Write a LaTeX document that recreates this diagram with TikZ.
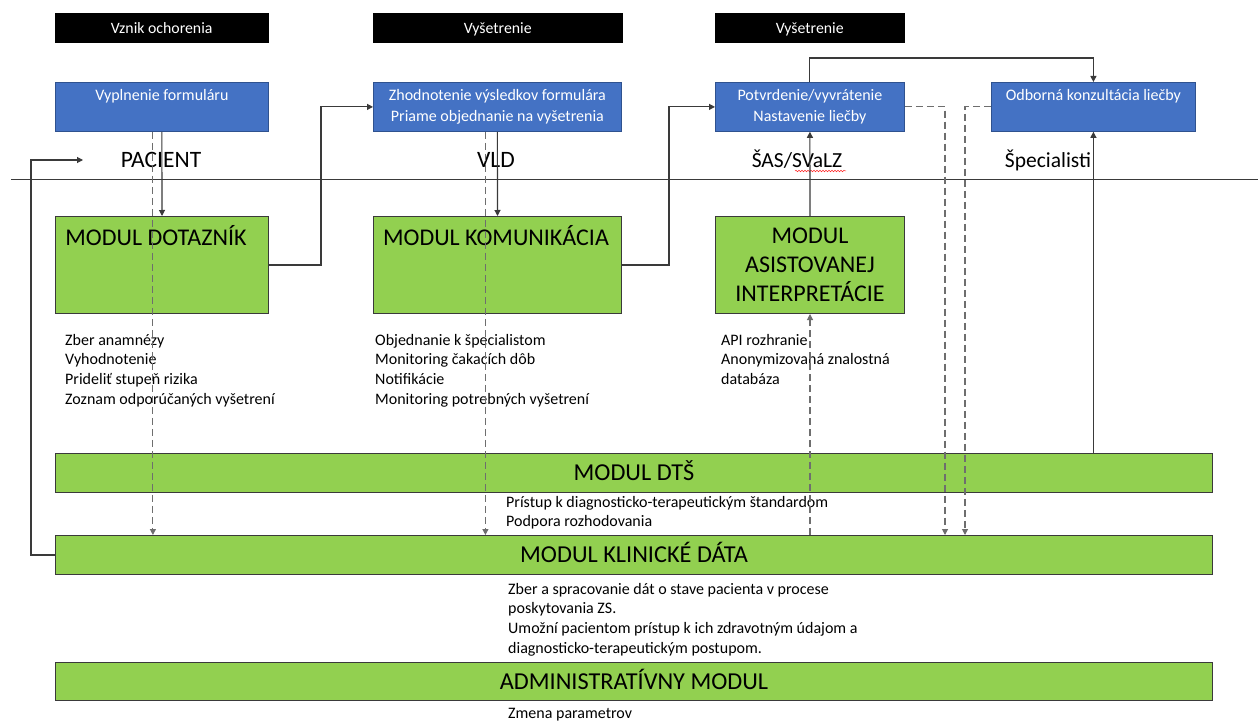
\documentclass[tikz,border=0pt]{standalone}
\usepackage{fontspec}
\setmainfont{Carlito}
\usetikzlibrary{arrows.meta,decorations.pathmorphing,calc}
\definecolor{blueF}{HTML}{4472C4}
\definecolor{blueD}{HTML}{2F528F}
\definecolor{greenF}{HTML}{92D050}
\definecolor{lineC}{HTML}{3A3A3A}
\definecolor{dashC}{HTML}{6E6E6E}
\tikzset{
  blackbox/.style={draw=black, fill=black, text=white, minimum height=29pt, inner sep=0pt, text height=12pt, text depth=0pt, anchor=north west, font=\fontsize{15.8}{18}\selectfont},
  bluebox/.style={draw=blueD, line width=0.8pt, fill=blueF, minimum height=49pt, inner sep=0pt, anchor=north west},
  greenbox/.style={draw=lineC, line width=1pt, fill=greenF, inner sep=0pt, anchor=north west},
  bluetext/.style={text=white, align=center, anchor=north, font=\fontsize{16}{21}\selectfont, inner sep=0pt},
  modtext/.style={text=black, align=center, font=\fontsize{24}{29}\selectfont, inner sep=0pt},
  bartext/.style={text=black, font=\fontsize{24.3}{28}\selectfont, inner sep=0pt, text height=15.6pt, text depth=0pt},
  desc/.style={text=black, align=left, anchor=north west, font=\fontsize{16}{19.6}\selectfont, inner sep=0pt},
  role/.style={text=black, font=\fontsize{21.5}{24}\selectfont, inner sep=0pt, anchor=base},
  arr/.style={draw=lineC, line width=1.1pt, -{Triangle[length=6pt,width=6pt]}},
  dasharr/.style={draw=dashC, line width=1.1pt, dash pattern=on 7pt off 4pt, -{Triangle[length=6pt,width=6pt]}},
}
\begin{document}
\begin{tikzpicture}[x=1pt,y=-1pt]
\useasboundingbox (0,0) rectangle (1258,722);
\fill[white] (0,0) rectangle (1258,722);

% phase headers
\node[blackbox, minimum width=213pt] (h1) at (55,13) {Vznik ochorenia};
\node[blackbox, minimum width=249pt] (h2) at (373,13) {Vyšetrenie};
\node[blackbox, minimum width=189pt] (h3) at (715,13) {Vyšetrenie};

% blue boxes
\node[bluebox, minimum width=213pt] (vyp) at (55,82) {};
\node[bluetext] (vypt) at ($(vyp.north)+(0,7)$) {Vyplnenie formuláru};
\node[bluebox, minimum width=248pt] (zhod) at (373,82) {};
\node[bluetext] (zhodt) at ($(zhod.north)+(0,7)$) {Zhodnotenie výsledkov formulára\\Priame objednanie na vyšetrenia};
\node[bluebox, minimum width=189pt] (pot) at (715,82) {};
\node[bluetext] (pott) at ($(pot.north)+(0,7)$) {Potvrdenie/vyvrátenie\\Nastavenie liečby};
\node[bluebox, minimum width=204pt] (odb) at (991,82) {};
\node[bluetext] (odbt) at ($(odb.north)+(0,7)$) {Odborná konzultácia liečby};

% role labels
\node[role, font=\fontsize{23.5}{26}\selectfont] (pac) at (161,168) {PACIENT};
\node[role, font=\fontsize{23.5}{26}\selectfont] (vld) at (496,168) {VLD};
\node[role] (sas) at (797,168) {ŠAS/SVaLZ};
\node[role] (spec) at (1048,168) {Špecialisti};
\draw[red!85!white, line width=0.5pt, decorate, decoration={snake, amplitude=0.8pt, segment length=3pt}] (795,171) -- (846,171);

% separator line
\coordinate (sepL) at (11,180);
\coordinate (sepR) at (1258,180);
\draw[lineC, line width=1pt] (sepL) -- (sepR);

% green module boxes
\node[greenbox, minimum width=213pt, minimum height=97pt] (dot) at (55,216) {};
\node[modtext] (dott) at ($(dot.north)+(-6,20)$) {MODUL DOTAZNÍK};
\node[greenbox, minimum width=248pt, minimum height=97pt] (kom) at (373,216) {};
\node[modtext] (komt) at ($(kom.north)+(-1.5,20)$) {MODUL KOMUNIKÁCIA};
\node[greenbox, minimum width=189pt, minimum height=97pt] (asi) at (715,216) {};
\node[modtext, anchor=north] (asit) at ($(asi.north)+(0,12)$) {MODUL\\ASISTOVANEJ\\INTERPRETÁCIE};

% descriptions
\node[desc] (d1) at (65,334) {Zber anamnézy\\Vyhodnotenie\\Prideliť stupeň rizika\\Zoznam odporúčaných vyšetrení};
\node[desc] (d2) at (375,334) {Objednanie k špecialistom\\Monitoring čakacích dôb\\Notifikácie\\Monitoring potrebných vyšetrení};
\node[desc] (d3) at (721,334) {API rozhranie\\Anonymizovaná znalostná\\databáza};

% bars
\node[greenbox, minimum width=1157pt, minimum height=39pt] (dts) at (55,453) {};
\node[bartext] (dtst) at (dts.center) {MODUL DTŠ};
\node[desc] (d4) at (506,496) {Prístup k diagnosticko-terapeutickým štandardom\\Podpora rozhodovania};
\node[greenbox, minimum width=1157pt, minimum height=39pt] (kd) at (55,535) {};
\node[bartext] (kdt) at (kd.center) {MODUL KLINICKÉ DÁTA};
\node[desc] (d5) at (508,583) {Zber a spracovanie dát o stave pacienta v procese\\poskytovania ZS.\\Umožní pacientom prístup k ich zdravotným údajom a\\diagnosticko-terapeutickým postupom.};
\node[greenbox, minimum width=1157pt, minimum height=38pt] (adm) at (55,662) {};
\node[bartext] (admt) at (adm.center) {ADMINISTRATÍVNY MODUL};
\node[desc] (d6) at (508,708) {Zmena parametrov};

% connectors
\coordinate (pacin) at (83,160);
\coordinate (xd1) at (945,0);
\coordinate (xd2) at (965,0);

\draw[arr] (vyp.south) -- (dot.north);
\draw[arr] (zhod.south) -- (kom.north);
\draw[arr] (dot.east) -- ++(52,0) |- (zhod.west);
\draw[arr] (kom.east) -- ++(47,0) |- (pot.west);
\draw[arr] (asi.north) -- (pot.south);
\draw[arr] (pot.north) -- ++(0,-24) -| (odb.north);
\draw[arr] (odb.south |- dts.north) -- (odb.south);
\draw[arr] (kd.west) -- ++(-24,0) |- (pacin);

\draw[dasharr] ([xshift=-9pt]vyp.south) -- ([xshift=-9pt]vyp.south |- kd.north);
\draw[dasharr] ([xshift=-12pt]zhod.south) -- ([xshift=-12pt]zhod.south |- kd.north);
\draw[dasharr] (kd.north -| asi.south) -- (asi.south);
\draw[dasharr] (pot.east) -| (xd1 |- kd.north);
\draw[dasharr] (odb.west) -| (xd2 |- kd.north);
\end{tikzpicture}
\end{document}
